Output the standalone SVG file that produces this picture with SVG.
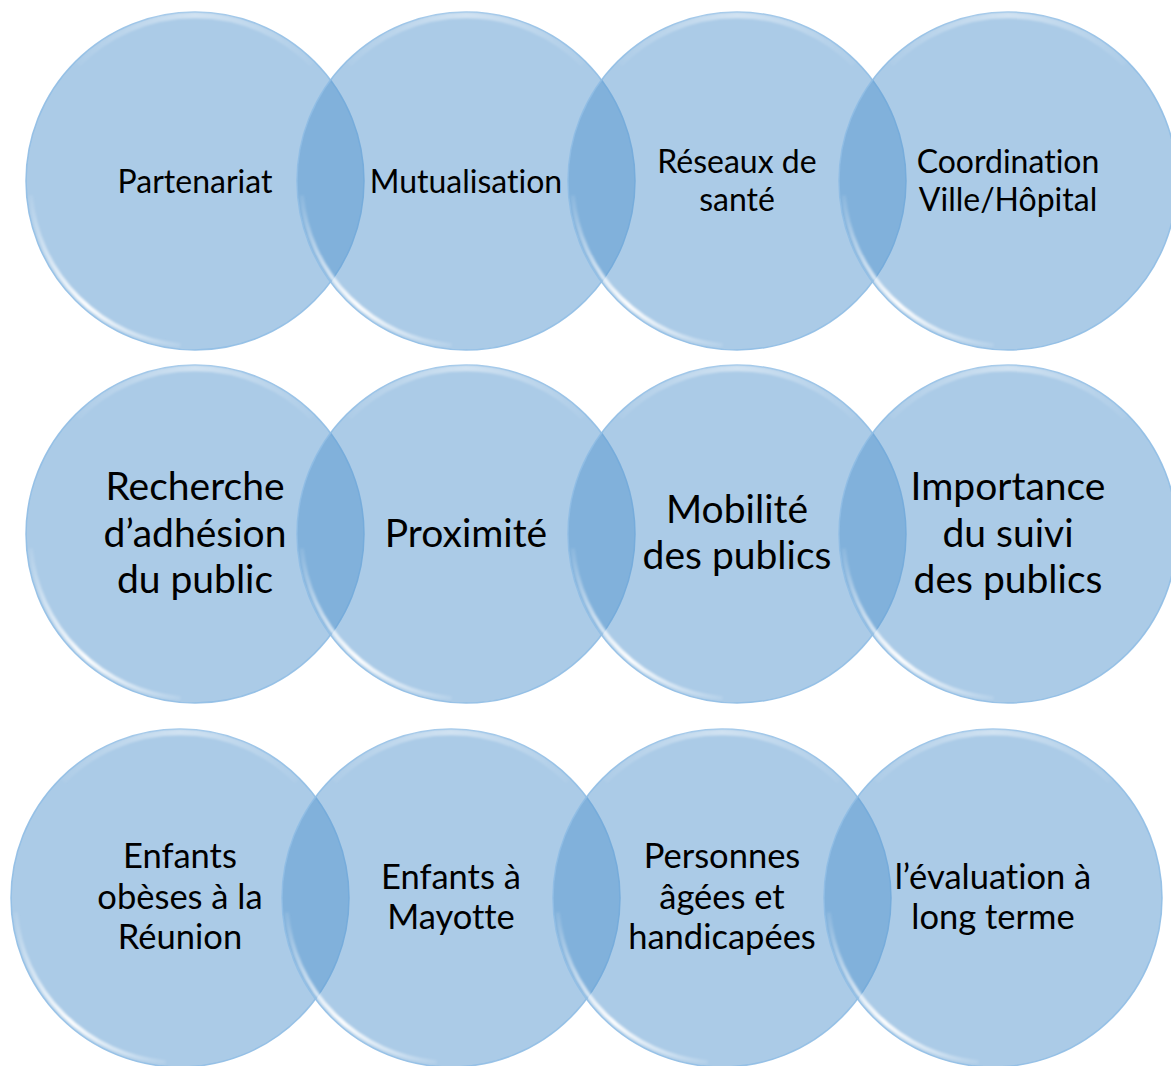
<svg xmlns="http://www.w3.org/2000/svg" xmlns:xlink="http://www.w3.org/1999/xlink" width="1171" height="1066" viewBox="0 0 1171 1066">
<defs>
<linearGradient id="hlLow" gradientUnits="userSpaceOnUse" x1="-166" y1="0" x2="0" y2="166">
<stop offset="0" stop-color="#ffffff" stop-opacity="0"/>
<stop offset="0.55" stop-color="#ffffff" stop-opacity="0.95"/>
<stop offset="1" stop-color="#ffffff" stop-opacity="0"/>
</linearGradient>
<linearGradient id="hlTop" gradientUnits="userSpaceOnUse" x1="-130" y1="0" x2="130" y2="0">
<stop offset="0" stop-color="#ffffff" stop-opacity="0"/>
<stop offset="0.5" stop-color="#ffffff" stop-opacity="0.45"/>
<stop offset="1" stop-color="#ffffff" stop-opacity="0"/>
</linearGradient>
<filter id="soft" x="-10%" y="-10%" width="120%" height="120%"><feGaussianBlur stdDeviation="0.8"/></filter>
<g id="bubble">
<circle cx="0" cy="0" r="169" fill="#5797d0" fill-opacity="0.5" stroke="#8fbce4" stroke-width="1.5" stroke-opacity="0.9"/>
<path d="M -164.4 14.4 A 165 165 0 0 0 -14.4 164.4" fill="none" stroke="url(#hlLow)" stroke-width="4.5" filter="url(#soft)"/>
<path d="M -117 -117 A 165 165 0 0 1 117 -117" fill="none" stroke="url(#hlTop)" stroke-width="6" filter="url(#soft)"/>
</g>
</defs>
<style>
text { font-family: Lato, "Liberation Sans", sans-serif; fill: #000000; text-anchor: middle; font-variant-ligatures: none; font-feature-settings: "liga" 0, "dlig" 0; }
.s1 { font-size: 32px; }
.s2 { font-size: 39px; }
.s3 { font-size: 34.5px; }
</style>
<g id="connectors"></g>
<g id="n1"><use xlink:href="#bubble" transform="translate(195,181)"/><text class="s1" x="195" y="193">Partenariat</text></g>
<g id="n2"><use xlink:href="#bubble" transform="translate(466,181)"/><text class="s1" x="466" y="193">Mutualisation</text></g>
<g id="n3"><use xlink:href="#bubble" transform="translate(737,181)"/><text class="s1" x="737" y="173">Réseaux de</text><text class="s1" x="737" y="211">santé</text></g>
<g id="n4"><use xlink:href="#bubble" transform="translate(1008,181)"/><text class="s1" x="1008" y="173">Coordination</text><text class="s1" x="1008" y="211">Ville/Hôpital</text></g>
<g id="n5"><use xlink:href="#bubble" transform="translate(195,534)"/><text class="s2" x="195" y="500">Recherche</text><text class="s2" x="195" y="547">d’adhésion</text><text class="s2" x="195" y="593">du public</text></g>
<g id="n6"><use xlink:href="#bubble" transform="translate(466,534)"/><text class="s2" x="466" y="547">Proximité</text></g>
<g id="n7"><use xlink:href="#bubble" transform="translate(737,534)"/><text class="s2" x="737" y="523">Mobilité</text><text class="s2" x="737" y="569">des publics</text></g>
<g id="n8"><use xlink:href="#bubble" transform="translate(1008,534)"/><text class="s2" x="1008" y="500">Importance</text><text class="s2" x="1008" y="547">du suivi</text><text class="s2" x="1008" y="593">des publics</text></g>
<g id="n9"><use xlink:href="#bubble" transform="translate(180,898)"/><text class="s3" x="180" y="868">Enfants</text><text class="s3" x="180" y="909">obèses à la</text><text class="s3" x="180" y="949">Réunion</text></g>
<g id="n10"><use xlink:href="#bubble" transform="translate(451,898)"/><text class="s3" x="451" y="889">Enfants à</text><text class="s3" x="451" y="929">Mayotte</text></g>
<g id="n11"><use xlink:href="#bubble" transform="translate(722,898)"/><text class="s3" x="722" y="868">Personnes</text><text class="s3" x="722" y="909">âgées et</text><text class="s3" x="722" y="949">handicapées</text></g>
<g id="n12"><use xlink:href="#bubble" transform="translate(993,898)"/><text class="s3" x="993" y="889">l’évaluation à</text><text class="s3" x="993" y="929">long terme</text></g>
</svg>
